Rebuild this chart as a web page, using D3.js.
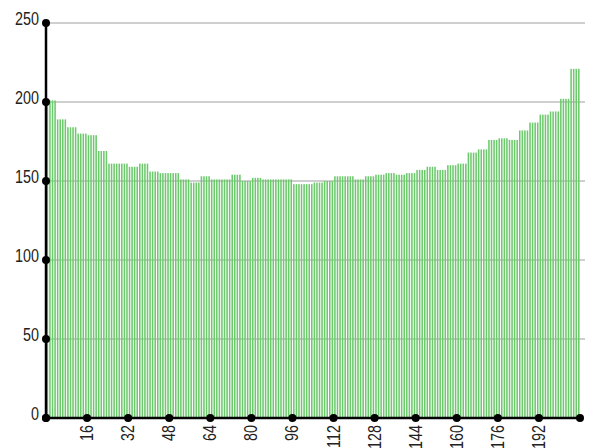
<!DOCTYPE html>
<meta charset="utf-8">
<script src="https://d3js.org/d3.v7.min.js"></script>
<style>
  body { margin: 0; background: #fff; }
  text { font-family: "Liberation Sans", Arial, sans-serif; fill: #222; }
</style>
<div id="chart"></div>
<script>

// bar values, one per bin (0..207)
var values = [
  201, 201, 201, 201,  189, 189, 189, 189,  184, 184, 184, 184,  180, 180, 180, 180,
  179, 179, 179, 179,  169, 169, 169, 169,  161, 161, 161, 161,  161, 161, 161, 161,
  159, 159, 159, 159,  161, 161, 161, 161,  156, 156, 156, 156,  155, 155, 155, 155,
  155, 155, 155, 155,  151, 151, 151, 151,  149, 149, 149, 149,  153, 153, 153, 153,
  151, 151, 151, 151,  151, 151, 151, 151,  154, 154, 154, 154,  150, 150, 150, 150,
  152, 152, 152, 152,  151, 151, 151, 151,  151, 151, 151, 151,  151, 151, 151, 151,
  148, 148, 148, 148,  148, 148, 148, 148,  149, 149, 149, 149,  150, 150, 150, 150,
  153, 153, 153, 153,  153, 153, 153, 153,  151, 151, 151, 151,  153, 153, 153, 153,
  154, 154, 154, 154,  155, 155, 155, 155,  154, 154, 154, 154,  155, 155, 155, 155,
  157, 157, 157, 157,  159, 159, 159, 159,  157, 157, 157, 157,  160, 160, 160, 160,
  161, 161, 161, 161,  168, 168, 168, 168,  170, 170, 170, 170,  176, 176, 176, 176,
  177, 177, 177, 177,  176, 176, 176, 176,  182, 182, 182, 182,  187, 187, 187, 187,
  192, 192, 192, 192,  194, 194, 194, 194,  202, 202, 202, 202,  221, 221, 221, 221
];
var xTicks = [16, 32, 48, 64, 80, 96, 112, 128, 144, 160, 176, 192];
var yTicks = [0, 50, 100, 150, 200, 250];

var margin = {top: 23, right: 13, bottom: 30, left: 46},
    width = 593 - margin.left - margin.right,
    height = 448 - margin.top - margin.bottom;

var svg = d3.select("#chart")
  .append("svg")
    .attr("width", 593)
    .attr("height", 448)
  .append("g")
    .attr("transform", "translate(" + margin.left + "," + margin.top + ")");

var x = d3.scaleLinear()
  .domain([0, values.length])
  .range([0, width]);

var y = d3.scaleLinear()
  .domain([0, 250])
  .range([height, 0]);

// grid lines
svg.append("g")
  .selectAll("line")
  .data(yTicks.filter(function(d) { return d > 0; }))
  .enter()
  .append("line")
    .attr("x1", 0)
    .attr("x2", width + 5)
    .attr("y1", function(d) { return y(d); })
    .attr("y2", function(d) { return y(d); })
    .attr("stroke", "#a0a0a0")
    .attr("stroke-width", 1.2);

// bars
var bw = (x(1) - x(0)) * 0.6;
svg.append("g")
  .selectAll("rect")
  .data(values)
  .enter()
  .append("rect")
    .attr("x", function(d, i) { return x(i) + 0.6; })
    .attr("y", function(d) { return y(d); })
    .attr("width", bw)
    .attr("height", function(d) { return height - y(d); })
    .attr("fill", "#6cc96c");

// axes
svg.append("line")
  .attr("x1", 0).attr("x2", 0)
  .attr("y1", 0).attr("y2", height)
  .attr("stroke", "#000").attr("stroke-width", 2.5);
svg.append("line")
  .attr("x1", 0).attr("x2", width)
  .attr("y1", height).attr("y2", height)
  .attr("stroke", "#000").attr("stroke-width", 2.5);

// y ticks: dots + labels (narrowed text)
svg.append("g")
  .selectAll("circle")
  .data(yTicks)
  .enter()
  .append("circle")
    .attr("cx", 0)
    .attr("cy", function(d) { return y(d); })
    .attr("r", 4)
    .attr("fill", "#000");

svg.append("g")
  .selectAll("text")
  .data(yTicks)
  .enter()
  .append("text")
    .attr("transform", function(d) { return "translate(-7," + (y(d) + 2) + ") scale(0.82,1)"; })
    .attr("text-anchor", "end")
    .style("font-size", "17.5px")
    .text(function(d) { return d; });

// x ticks: dots at ends and at each tick, labels rotated
svg.append("g")
  .selectAll("circle")
  .data([0].concat(xTicks, [values.length]))
  .enter()
  .append("circle")
    .attr("cx", function(d) { return x(d); })
    .attr("cy", height)
    .attr("r", 4)
    .attr("fill", "#000");

svg.append("g")
  .selectAll("text")
  .data(xTicks)
  .enter()
  .append("text")
    .attr("transform", function(d) { return "translate(" + (x(d) + 6) + "," + (height + 7) + ") rotate(-90) scale(0.82,1)"; })
    .attr("text-anchor", "end")
    .style("font-size", "17.5px")
    .text(function(d) { return d; });

</script>
